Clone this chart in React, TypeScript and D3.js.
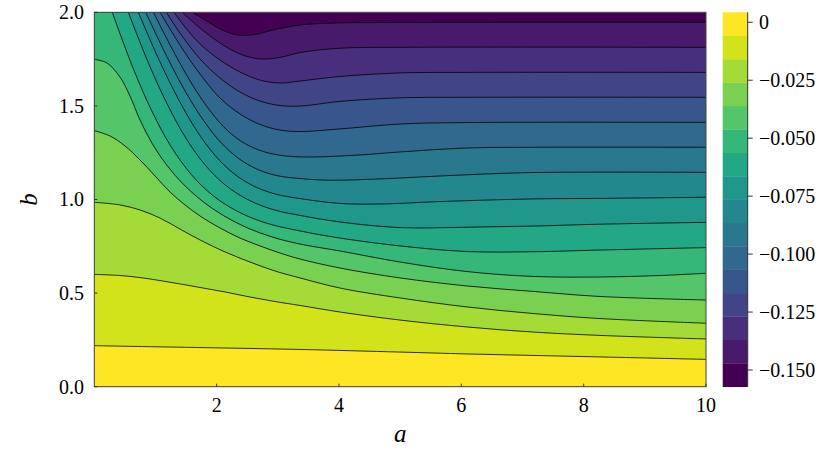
import React from 'react';
import * as d3 from 'd3';

// contour levels (value of each drawn contour line, from most negative to least)
const contourLevels = [
  -0.1471, -0.137, -0.1269, -0.1168, -0.1067, -0.0966, -0.0865, -0.0765,
  -0.0664, -0.0563, -0.0462, -0.0361, -0.026, -0.0159, -0.0058,
];
const colorMin = -0.1572;
const colorMax = 0.0043;

// contour lines as (a, b) points; same order as contourLevels
const line01: [number, number][] = [[1.602,2.0],[1.81,1.959],[2.055,1.911],[2.3,1.881],[2.464,1.877],[2.627,1.881],[2.954,1.908],[3.363,1.932],[3.853,1.942],[4.998,1.946],[10,1.947]];
const line02: [number, number][] = [[1.439,2.0],[1.728,1.916],[2.055,1.836],[2.382,1.777],[2.709,1.751],[3.036,1.759],[3.363,1.785],[4.016,1.808],[4.998,1.813],[10,1.813]];
const line03: [number, number][] = [[1.303,2.0],[1.483,1.921],[1.728,1.831],[2.055,1.745],[2.382,1.681],[2.709,1.638],[3.036,1.622],[3.363,1.633],[4.016,1.657],[4.998,1.676],[6.093,1.679],[10,1.679]];
const line04: [number, number][] = [[1.177,2.0],[1.401,1.889],[1.728,1.751],[2.055,1.649],[2.382,1.574],[2.709,1.526],[3.036,1.502],[3.363,1.499],[4.016,1.524],[4.998,1.543],[6.093,1.546],[10,1.546]];
const line05: [number, number][] = [[1.074,2.0],[1.401,1.825],[1.728,1.67],[2.055,1.542],[2.382,1.457],[2.709,1.401],[3.036,1.371],[3.363,1.363],[4.016,1.377],[4.998,1.403],[6.093,1.411],[10,1.412]];
const line06: [number, number][] = [[0.965,2.0],[1.316,1.778],[1.624,1.602],[1.909,1.467],[2.182,1.367],[2.467,1.298],[2.774,1.255],[3.121,1.233],[3.526,1.227],[4.344,1.238],[4.998,1.254],[6.093,1.275],[7.172,1.279],[10,1.279]];
const line07: [number, number][] = [[0.84,2.0],[1.187,1.763],[1.499,1.571],[1.792,1.419],[2.076,1.302],[2.364,1.218],[2.666,1.161],[2.995,1.127],[3.363,1.112],[3.853,1.103],[4.671,1.11],[5.815,1.128],[7.172,1.144],[10,1.145]];
const line08: [number, number][] = [[0.719,2.0],[1.064,1.742],[1.381,1.532],[1.681,1.364],[1.976,1.235],[2.279,1.139],[2.604,1.072],[2.961,1.029],[3.363,1.005],[4.016,0.979],[4.671,0.976],[5.652,0.989],[7.172,1.003],[8.267,1.006],[10,1.012]];
const line09: [number, number][] = [[0.556,2.0],[0.889,1.726],[1.202,1.503],[1.506,1.323],[1.815,1.183],[2.142,1.077],[2.5,1.001],[2.902,0.948],[3.363,0.915],[4.016,0.88],[4.998,0.85],[6.093,0.852],[7.172,0.858],[8.267,0.868],[10,0.878]];
const line10: [number, number][] = [[0.294,2.0],[0.621,1.712],[0.937,1.475],[1.252,1.284],[1.584,1.134],[1.947,1.019],[2.356,0.934],[2.822,0.873],[3.363,0.832],[4.016,0.794],[4.998,0.752],[6.093,0.722],[7.172,0.721],[8.267,0.73],[10,0.743]];
const line11: [number, number][] = [[0,1.749],[0.208,1.729],[0.42,1.654],[0.584,1.552],[0.747,1.425],[0.951,1.296],[1.19,1.181],[1.463,1.079],[1.774,0.989],[2.117,0.913],[2.498,0.849],[2.913,0.799],[3.363,0.762],[4.016,0.725],[4.998,0.666],[6.093,0.615],[7.172,0.589],[8.267,0.586],[9.248,0.594],[10,0.606]];
const line12: [number, number][] = [[0,1.368],[0.257,1.339],[0.502,1.286],[0.747,1.211],[0.992,1.126],[1.238,1.04],[1.483,0.971],[1.728,0.912],[2.055,0.848],[2.382,0.794],[2.709,0.752],[3.036,0.714],[3.363,0.682],[4.016,0.634],[4.998,0.581],[6.093,0.538],[7.172,0.509],[8.267,0.482],[10,0.463]];
const line13: [number, number][] = [[0,0.985],[0.42,0.971],[0.747,0.944],[1.074,0.901],[1.401,0.842],[1.728,0.784],[2.137,0.72],[2.545,0.666],[2.954,0.618],[3.363,0.581],[4.016,0.527],[4.998,0.474],[6.093,0.426],[7.172,0.391],[8.267,0.364],[10,0.339]];
const line14: [number, number][] = [[0,0.6],[0.42,0.594],[0.747,0.583],[1.074,0.567],[1.401,0.549],[1.728,0.53],[2.137,0.506],[2.545,0.479],[2.954,0.455],[3.363,0.434],[4.016,0.399],[4.998,0.356],[6.093,0.319],[7.172,0.292],[8.267,0.274],[10,0.255]];
const line15: [number, number][] = [[0,0.219],[1.728,0.209],[3.363,0.199],[4.998,0.185],[6.093,0.175],[7.172,0.167],[8.267,0.159],[10,0.146]];

const contourLines = [line01, line02, line03, line04, line05, line06, line07, line08, line09, line10, line11, line12, line13, line14, line15];

const aTicks = [2, 4, 6, 8, 10];
const bTicks = [0, 0.5, 1.0, 1.5, 2.0];
const bTickLabels = ['0.0', '0.5', '1.0', '1.5', '2.0'];
const cbTicks = [0, -0.025, -0.05, -0.075, -0.1, -0.125, -0.15];
const cbTickLabels = ['0', '\u22120.025', '\u22120.050', '\u22120.075', '\u22120.100', '\u22120.125', '\u22120.150'];

export default function App() {
  const W = 830, H = 467;
  const left = 94.3, right = 706, top = 12.3, bottom = 386.7;
  const x = d3.scaleLinear().domain([0, 10]).range([left, right]);
  const y = d3.scaleLinear().domain([0, 2]).range([bottom, top]);
  const line = d3.line<[number, number]>()
    .x(d => x(d[0]))
    .y(d => y(d[1]))
    .curve(d3.curveCatmullRom.alpha(0.5));
  const nBands = contourLevels.length + 1;
  const bandColor = (i: number) => d3.interpolateViridis(i / (nBands - 1));

  const areas = contourLines.map(pts => {
    const d = line(pts) as string;
    const startsTop = pts[0][1] >= 2;
    return d + `L${x(10)},${y(0)}L${x(0)},${y(0)}` + (startsTop ? `L${x(0)},${y(2)}` : '') + 'Z';
  });

  const cbLeft = 722.7, cbRight = 747.7;
  const cy = d3.scaleLinear().domain([colorMin, colorMax]).range([bottom, top]);
  const edges = [colorMin, ...contourLevels, colorMax];

  const font = '"Liberation Serif", "Times New Roman", Times, serif';
  const ts: React.CSSProperties = { fontFamily: font };
  const fs = 20;

  return (
    <svg width={W} height={H} style={{ position: 'absolute', left: 0, top: 0, background: '#fff', fontFamily: font }}>
      <defs>
        <clipPath id="plotclip">
          <rect x={left} y={top} width={right - left} height={bottom - top} />
        </clipPath>
      </defs>
      <g clipPath="url(#plotclip)">
        <rect x={left} y={top} width={right - left} height={bottom - top} fill={bandColor(0)} />
        {areas.map((d, i) => (
          <path key={'a' + i} d={d} fill={bandColor(i + 1)} stroke="none" />
        ))}
        {contourLines.map((pts, i) => (
          <path key={'l' + i} d={line(pts) as string} fill="none" stroke="#000" strokeWidth={0.8} />
        ))}
      </g>
      <rect x={left} y={top} width={right - left} height={bottom - top} fill="none" stroke="#444" strokeWidth={1} />
      {aTicks.map(t => (
        <g key={'xt' + t}>
          <line x1={x(t)} x2={x(t)} y1={bottom} y2={bottom - 3} stroke="#333" strokeWidth={1} />
          <text x={x(t)} y={412} textAnchor="middle" style={ts} fontSize={fs} fill="#000">{t}</text>
        </g>
      ))}
      {bTicks.map((t, i) => (
        <g key={'yt' + t}>
          <line x1={left} x2={left + 3} y1={y(t)} y2={y(t)} stroke="#333" strokeWidth={1} />
          <text x={84} y={y(t) + 6.8} textAnchor="end" style={ts} fontSize={fs} fill="#000">{bTickLabels[i]}</text>
        </g>
      ))}
      <text x={(left + right) / 2} y={442} textAnchor="middle" style={ts} fontStyle="italic" fontSize={25} fill="#000">a</text>
      <text transform={`translate(37,${(top + bottom) / 2}) rotate(-90)`} textAnchor="middle" style={ts} fontStyle="italic" fontSize={25} fill="#000">b</text>

      {edges.slice(0, -1).map((e, i) => (
        <rect key={'cb' + i} x={cbLeft} y={cy(edges[i + 1])} width={cbRight - cbLeft} height={cy(e) - cy(edges[i + 1]) + 0.3} fill={bandColor(i)} />
      ))}
      <line x1={cbRight} x2={cbRight} y1={top} y2={bottom} stroke="#333" strokeWidth={1} />
      {cbTicks.map((t, i) => (
        <g key={'ct' + i}>
          <line x1={cbRight} x2={cbRight + 5} y1={cy(t)} y2={cy(t)} stroke="#333" strokeWidth={1} />
          <text x={759} y={cy(t) + 6.8} textAnchor="start" style={ts} fontSize={fs} fill="#000">{cbTickLabels[i]}</text>
        </g>
      ))}
    </svg>
  );
}
